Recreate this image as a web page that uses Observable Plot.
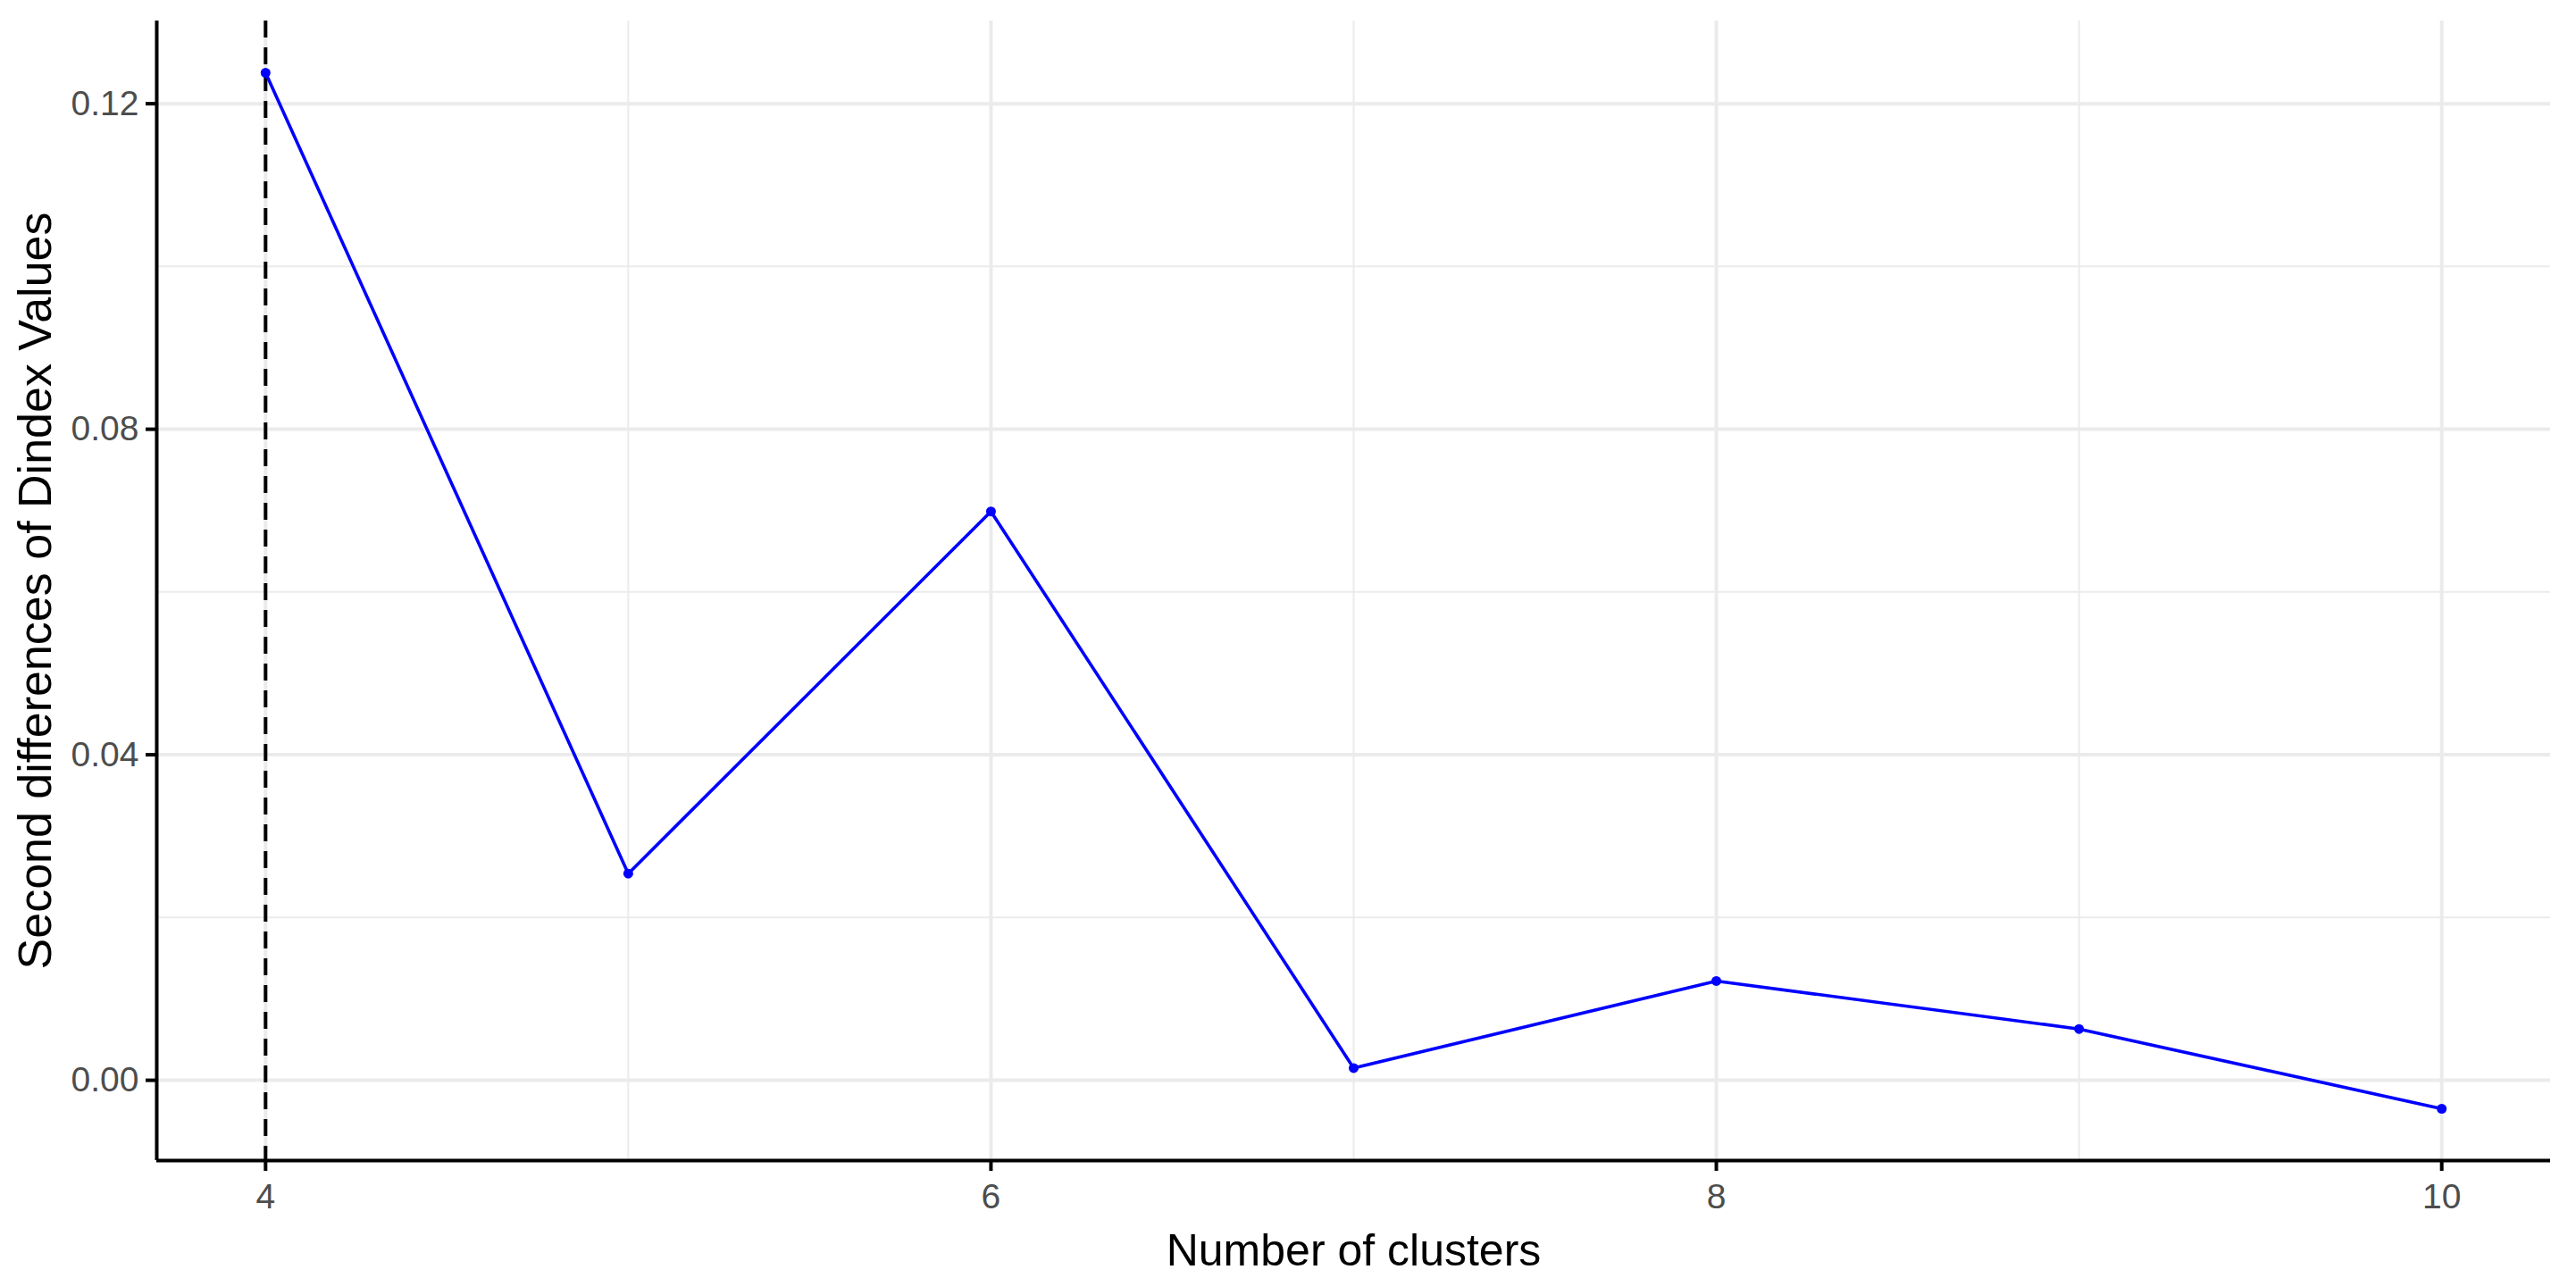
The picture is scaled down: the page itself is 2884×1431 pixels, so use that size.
<!DOCTYPE html>
<html>
<head>
<meta charset="utf-8">
<script src="https://cdn.jsdelivr.net/npm/d3@7"></script>
<script src="https://cdn.jsdelivr.net/npm/@observablehq/plot@0.6"></script>
<style>
  html, body { margin: 0; padding: 0; background: #ffffff; }
  #chart { width: 2884px; height: 1431px; }
</style>
</head>
<body>
<div id="chart"></div>
<script>
// ---- data ----
const clusters = [4, 5, 6, 7, 8, 9, 10];
const secondDiff = [0.1238, 0.0254, 0.0699, 0.0015, 0.0122, 0.0063, -0.0035];
const bestK = [4];
const xMajorTicks = [4, 6, 8, 10];
const xMinorTicks = [5, 7, 9];
const yMajorTicks = [0, 0.04, 0.08, 0.12];
const yMinorTicks = [0.02, 0.06, 0.10];
const xTitle = "Number of clusters";
const yTitle = "Second differences of Dindex Values";

const data = clusters.map((k, i) => ({k, v: secondDiff[i]}));

// ggplot-like 5% expansion
const [xmin, xmax] = d3.extent(clusters);
const [ymin, ymax] = d3.extent(secondDiff);
const xPad = (xmax - xmin) * 0.05, yPad = (ymax - ymin) * 0.05;
const xDomain = [xmin - xPad, xmax + xPad];
const yDomain = [ymin - yPad, ymax + yPad];

const font = "'Liberation Sans', Arial, sans-serif";

const chart = Plot.plot({
  width: 2884,
  height: 1431,
  marginLeft: 175,
  marginRight: 29,
  marginTop: 23,
  marginBottom: 132,
  style: {background: "#ffffff", fontFamily: font, overflow: "visible"},
  x: {domain: xDomain, ticks: xMajorTicks},
  y: {domain: yDomain, ticks: yMajorTicks},
  marks: [
    // grid
    Plot.ruleY(yMinorTicks, {stroke: "#EBEBEB", strokeWidth: 2}),
    Plot.ruleX(xMinorTicks, {stroke: "#EBEBEB", strokeWidth: 2}),
    Plot.ruleY(yMajorTicks, {stroke: "#EBEBEB", strokeWidth: 4}),
    Plot.ruleX(xMajorTicks, {stroke: "#EBEBEB", strokeWidth: 4}),
    // reference line
    Plot.ruleX(bestK, {stroke: "#000000", strokeWidth: 4, strokeDasharray: "19,11"}),
    // series
    Plot.line(data, {x: "k", y: "v", stroke: "#0000FF", strokeWidth: 3.6}),
    Plot.dot(data, {x: "k", y: "v", r: 5.5, fill: "#0000FF", stroke: "none"}),
    // axis lines
    Plot.ruleX([xDomain[0]], {stroke: "#000000", strokeWidth: 4}),
    Plot.ruleY([yDomain[0]], {stroke: "#000000", strokeWidth: 4}),
    // axes
    Plot.axisX(xMajorTicks, {
      label: null, tickSize: 12, tickPadding: 14, fontSize: 39,
      stroke: "#000000", strokeWidth: 4, fill: "#4D4D4D", tickFormat: d => String(d)
    }),
    Plot.axisY(yMajorTicks, {
      label: null, tickSize: 12, tickPadding: 8, fontSize: 39,
      stroke: "#000000", strokeWidth: 4, fill: "#4D4D4D", tickFormat: d3.format(".2f")
    }),
    // titles
    Plot.text([xTitle], {
      frameAnchor: "bottom", text: d => d, dy: 117, lineAnchor: "bottom",
      fontSize: 50, fill: "#000000"
    }),
    Plot.text([yTitle], {
      frameAnchor: "left", text: d => d, dx: -135, rotate: -90,
      textAnchor: "middle", lineAnchor: "middle",
      fontSize: 52, fill: "#000000"
    })
  ]
});

document.getElementById("chart").appendChild(chart);
</script>
</body>
</html>
